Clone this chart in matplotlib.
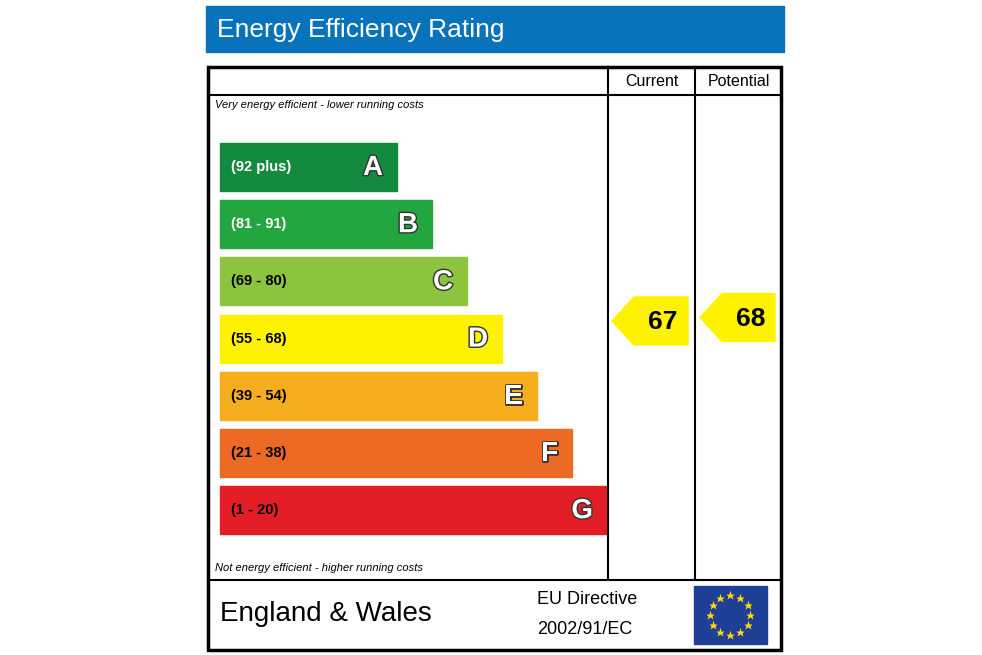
import matplotlib
matplotlib.use("Agg")
import matplotlib.pyplot as plt
from matplotlib.patches import Rectangle, Polygon, Circle
import matplotlib.patheffects as pe
import numpy as np

letters = ["A", "B", "C", "D", "E", "F", "G"]
ranges = ["(92 plus)", "(81 - 91)", "(69 - 80)", "(55 - 68)", "(39 - 54)", "(21 - 38)", "(1 - 20)"]
colors = ["#138a40", "#23a640", "#8cc43f", "#fff200", "#f6ad1e", "#ec6a24", "#e21d25"]
range_text_colors = ["white", "white", "black", "black", "black", "black", "black"]
current_rating = 67
potential_rating = 68

fig = plt.figure(figsize=(9.82, 6.55), dpi=100)
ax = fig.add_axes([0, 0, 1, 1])
ax.set_xlim(0, 982)
ax.set_ylim(655, 0)
ax.axis("off")

# title bar
ax.add_patch(Rectangle((206, 6), 578, 46, color="#0872bb"))
ax.text(217, 30, "Energy Efficiency Rating", color="white", fontsize=19, va="center", ha="left", family="Liberation Sans")

# main frame
ax.add_patch(Rectangle((208, 67), 573, 583, fill=False, lw=2.5, ec="black"))
ax.plot([208, 781], [95, 95], color="black", lw=1.5)
ax.plot([208, 781], [580, 580], color="black", lw=1.5)
ax.plot([608, 608], [67, 580], color="black", lw=1.5)
ax.plot([695, 695], [67, 580], color="black", lw=1.5)
ax.text(652, 81, "Current", fontsize=11.5, ha="center", va="center", family="Liberation Sans")
ax.text(739, 81, "Potential", fontsize=11.5, ha="center", va="center", family="Liberation Sans")
ax.text(215, 105, "Very energy efficient - lower running costs", fontsize=8, style="italic", va="center", family="Liberation Sans")
ax.text(215, 568, "Not energy efficient - higher running costs", fontsize=8, style="italic", va="center", family="Liberation Sans")

# bands
top0, step, h = 143, 57.2, 48
for i, (L, r, c, tc) in enumerate(zip(letters, ranges, colors, range_text_colors)):
    y = top0 + i * step
    right = 397 + i * 35
    ax.add_patch(Rectangle((220, y), right - 220, h, color=c))
    ax.text(231, y + h / 2, r, fontsize=10.5, color=tc, va="center", ha="left", family="Liberation Sans",
            fontweight="bold")
    ax.text(right - 14, y + h / 2 + 1, L, fontsize=20, color="white", fontweight="bold", va="center", ha="right",
            family="Liberation Sans", path_effects=[pe.withStroke(linewidth=2, foreground="#333333")])

def rating_y(v):
    return 555.5 - 3.5 * v

def arrow(x0, x1, value):
    yc = rating_y(value)
    hh = 24
    pts = [(x0, yc), (x0 + 22, yc - hh), (x1, yc - hh), (x1, yc + hh), (x0 + 22, yc + hh)]
    ax.add_patch(Polygon(pts, closed=True, color="#fff200"))
    ax.text((x0 + 22 + x1) / 2 + 2, yc + 1, str(value), fontsize=19, fontweight="bold", ha="center", va="center",
            family="Liberation Sans")

arrow(612, 688, current_rating)
arrow(700, 775, potential_rating)

# footer
ax.text(220, 614, "England & Wales", fontsize=20, va="center", ha="left", family="Liberation Sans")
ax.text(537, 600, "EU Directive", fontsize=13, va="center", ha="left", family="Liberation Sans")
ax.text(537, 629, "2002/91/EC", fontsize=13, va="center", ha="left", family="Liberation Sans")
ax.add_patch(Rectangle((694, 586), 73, 58, color="#1f3e95"))
cx, cy, R = 730.5, 615, 20
for k in range(12):
    a = 2 * np.pi * k / 12
    ax.plot(cx + R * np.cos(a), cy + R * np.sin(a), marker="*", color="#ffdd00", markersize=6.5, mec="none")

fig.savefig("out.png", dpi=100)
